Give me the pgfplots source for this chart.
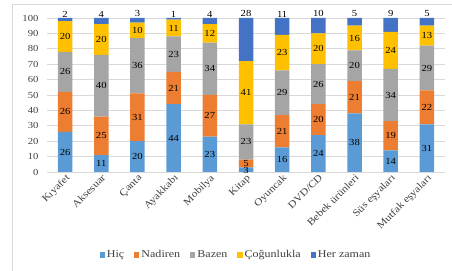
\documentclass[border=0pt]{standalone}
\usepackage{fontspec}
\setmainfont[FakeStretch=1.15]{Liberation Serif}
\usepackage{pgfplots}
\usepackage{pgfplotstable}
\pgfplotsset{compat=1.18}
\usetikzlibrary{calc}
\definecolor{chic}{HTML}{5B9BD5}
\definecolor{cnad}{HTML}{ED7D31}
\definecolor{cbaz}{HTML}{A5A5A5}
\definecolor{ccog}{HTML}{FFC000}
\definecolor{cher}{HTML}{4472C4}
\definecolor{gridgray}{HTML}{D9D9D9}
\definecolor{txt}{HTML}{404040}

\pgfplotstableread{
x hic nad baz cog her
0 26 26 26 20 2
1 11 25 40 20 4
2 20 31 36 10 3
3 44 21 23 11 1
4 23 27 34 12 4
5 3 5 23 41 28
6 16 21 29 23 11
7 24 20 26 20 10
8 38 21 20 16 5
9 14 19 34 24 9
10 31 22 29 13 5
}\datatable

% label positions (middle of each segment) and values
\pgfplotstableread{
x y lab
0 13 26
0 39 26
0 65 26
0 88 20
1 5.5 11
1 23.5 25
1 56 40
1 86 20
2 10 20
2 35.5 31
2 69 36
2 92 10
3 22 44
3 54.5 21
3 76.5 23
3 93.5 11
4 11.5 23
4 36.5 27
4 67 34
4 90 12
5 1.2 3
5 5.5 5
5 19.5 23
5 51.5 41
6 8 16
6 26.5 21
6 51.5 29
6 77.5 23
7 12 24
7 34 20
7 57 26
7 80 20
8 19 38
8 48.5 21
8 69 20
8 87 16
9 7 14
9 23.5 19
9 50 34
9 79 24
10 15.5 31
10 42 22
10 67.5 29
10 88.5 13
}\labtable

\pgfplotstableread{
x y lab
0 100 2
1 100 4
2 100 3
3 100 1
4 100 4
5 100 28
6 100 11
7 100 10
8 100 5
9 100 9
10 100 5
}\toptable

\newcommand\lblfont{\fontsize{9.3}{10}\selectfont}
\newcommand\catfont{\fontsize{10}{11}\selectfont}

\begin{document}
\begin{tikzpicture}
\begin{axis}[
  name=main,
  scale only axis, width=398bp, height=154bp,
  ybar stacked, bar width=14.5bp,
  xmin=-0.5, xmax=10.5, ymin=0, ymax=100,
  ytick={0,10,...,100},
  xtick={0,...,10},
  xticklabels={Kıyafet,Aksesuar,Çanta,Ayakkabı,Mobilya,Kitap,Oyuncak,DVD/CD,Bebek ürünleri,Süs eşyaları,Mutfak eşyaları},
  xticklabel style={rotate=45, anchor=north east, inner sep=1bp, font=\catfont, text=txt},
  yticklabel style={font=\lblfont, text=txt, xshift=-5bp},
  /pgf/number format/assume math mode=true,
  major tick length=0pt,
  ymajorgrids, grid style={draw=gridgray, line width=0.7bp},
  axis x line*=bottom, axis y line*=left,
  x axis line style={draw=gridgray, line width=0.7bp, -},
  y axis line style={draw=none},
  legend style={at={(0.475,-0.539)}, anchor=center, draw=none, fill=none,
    legend columns=-1, font=\fontsize{10.5}{11}\selectfont, text=txt,
    /tikz/every even column/.append style={column sep=8bp},
    inner sep=0pt},
  legend image code/.code={\fill[#1] (0bp,-2.6bp) rectangle (5.2bp,2.6bp);},
]
\addplot[fill=chic, draw=none] table[x=x, y=hic] {\datatable};
\addlegendentry{Hiç}
\addplot[fill=cnad, draw=none] table[x=x, y=nad] {\datatable};
\addlegendentry{Nadiren}
\addplot[fill=cbaz, draw=none] table[x=x, y=baz] {\datatable};
\addlegendentry{Bazen}
\addplot[fill=ccog, draw=none] table[x=x, y=cog] {\datatable};
\addlegendentry{Çoğunlukla}
\addplot[fill=cher, draw=none] table[x=x, y=her] {\datatable};
\addlegendentry{Her zaman}
\end{axis}
\begin{axis}[
  scale only axis, width=398bp, height=154bp,
  xmin=-0.5, xmax=10.5, ymin=0, ymax=100,
  hide axis, clip=false,
]
\addplot[draw=none, mark=none, nodes near coords, point meta=explicit symbolic,
  every node near coord/.append style={anchor=center, inner sep=0pt, font=\lblfont, text=black}]
  table[x=x, y=y, meta=lab] {\labtable};
\addplot[draw=none, mark=none, nodes near coords, point meta=explicit symbolic,
  every node near coord/.append style={anchor=south, inner sep=0pt, yshift=0.8bp, font=\lblfont, text=black}]
  table[x=x, y=y, meta=lab] {\toptable};
\end{axis}
\pgfresetboundingbox
\path[use as bounding box] ($(main.south west)+(-47bp,-99bp)$) rectangle ($(main.north east)+(7bp,18bp)$);
\draw[gridgray, line width=0.8bp] ($(main.south west)+(-35bp,-99bp)$) -- ($(main.north west)+(-35bp,14bp)$) -- ($(main.north east)+(7bp,14bp)$);
\end{tikzpicture}
\end{document}
